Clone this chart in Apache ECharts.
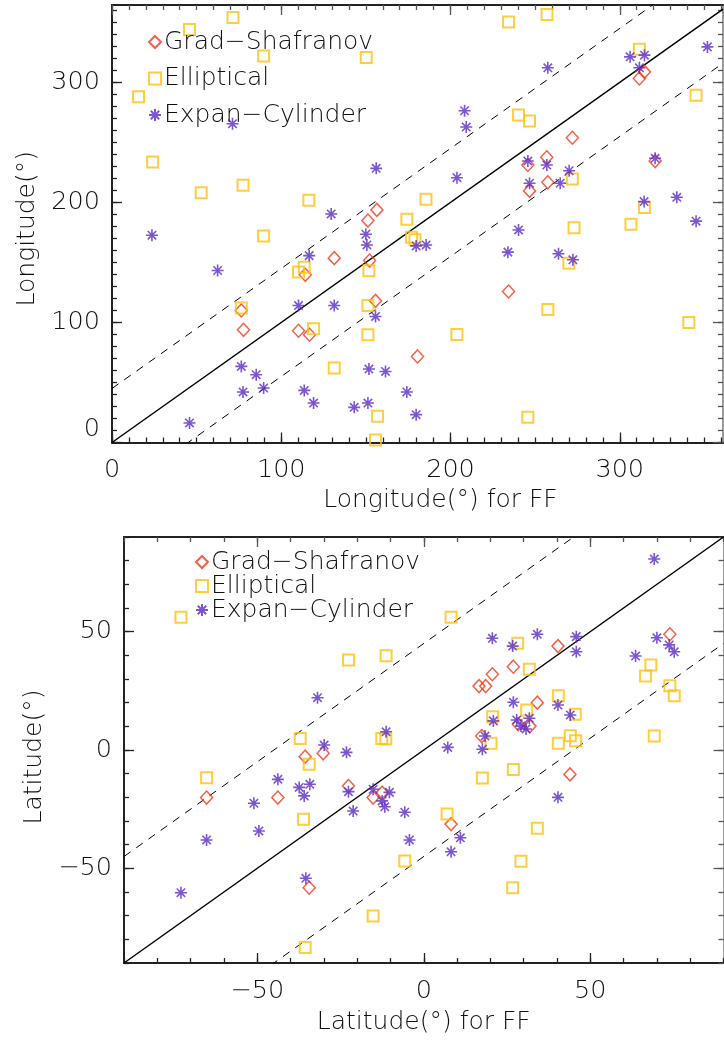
<!DOCTYPE html>
<html>
<head>
<meta charset="utf-8">
<style>
  html, body { margin: 0; padding: 0; background: #fff; }
  #chart { width: 724px; height: 1041px; }
</style>
<script src="https://cdn.jsdelivr.net/npm/echarts@6/dist/echarts.min.js"></script>
</head>
<body>
<div id="chart"></div>
<script>
// ---- Longitude comparison: [FF value, model value] ----
const gsLon = [
  [156.5,193.8],[151.2,184.9],[314.6,308.8],[311.6,303.3],[272,253.9],[256.9,237.6],
  [245.7,231.2],[257.5,216.8],[246.7,209.6],[320.9,234.5],[131.3,153.6],[152.2,151.6],
  [114.2,139.7],[155.7,118],[76.4,110],[77.7,93.9],[110.2,93.1],[116.7,89.8],
  [180.5,71.7],[234.3,125.8]
];
const ellLon = [
  [71.5,354],[45.8,344],[89.6,322],[150.2,320.8],[15.7,288],[24,233.7],[52.7,208],
  [77.4,214.3],[116.3,201.8],[174.2,186],[89.6,172],[177,171],[179,169],[234.3,350.4],
  [257,356.6],[311.6,327.7],[240.2,272.8],[246.7,267.8],[345.1,289.4],[185.5,202.7],
  [272,219.5],[314.6,195.7],[306.6,181.9],[273,179],[269.9,149.4],[257.5,110.8],
  [203.8,90],[340.8,100],[245.7,21],[110.2,142],[113.6,146],[151.8,143],[76.4,112],
  [151.2,114.1],[119.1,94.8],[151.2,89.8],[131.3,62],[156.9,21.8],[155.7,2]
];
const cylLon = [
  [71.2,265.6],[156.1,228.4],[129.5,190.4],[150,173.5],[23.6,172.7],
  [351.8,329.6],[306.1,321.3],[314.6,322.7],[311.6,312.2],[257.5,312.2],[208.3,276.4],
  [209.3,262.8],[203.8,220.6],[245.7,234.5],[256.9,231.2],[270.1,226.4],[246.7,216],
  [264.8,216],[320.9,236.8],[314.4,200.7],[333.7,204.3],[345.1,184.4],[240.2,177.1],
  [150.6,164.6],[116.5,155.7],[62.4,143.3],[110.2,114.1],[131.3,114.1],[155.7,105],
  [179.7,163.8],[185.6,164.6],[76.4,63.4],[85.2,56.5],[89.6,45.4],[77.4,42.1],
  [113.6,43.4],[119.1,32.9],[143.1,29.3],[151.2,32.9],[151.8,61.2],[161.6,59.2],
  [174.2,42.1],[179.7,23.2],[45.8,16.3],
  [233.9,158.6],[263.8,157.2],[272.3,152.2]
];

// ---- Latitude comparison: [FF value, model value] ----
const gsLat = [
  [-35.6,-2.8],[-30.2,-1.4],[73.9,48.9],[40.3,43.9],[26.9,35.2],[20.6,32],[16.6,27],
  [18.6,27],[34.1,20],[28.4,10.9],[31.9,10.1],[17.4,5.9],[43.9,-10.3],[-65.2,-20.1],
  [-43.8,-20.1],[-22.6,-15.2],[-15.2,-20.1],[-12.5,-18],[-34.4,-58.2],[8.2,-31.3]
];
const ellLat = [
  [-72.9,56.1],[-22.6,38],[-11.3,39.8],[-37.1,4.9],[-34.4,-6],[-65.2,-11.7],[-12.6,4.9],
  [-11.4,4.6],[8.2,56.1],[28.2,45.1],[31.7,34.1],[68.2,35.9],[66.6,31.3],[73.9,27.2],
  [75.2,22.9],[40.4,22.9],[30.9,16.9],[20.7,14.1],[45.5,15.1],[20.2,2.8],[44,6],
  [45.6,3.9],[40.4,2.8],[69.2,5.9],[26.9,-8.2],[17.6,-11.8],[-36.1,-29.3],[-5.7,-46.9],
  [-15.2,-70.1],[-35.6,-83.4],[7,-27],[34.1,-33.1],[29.2,-47],[26.7,-58.2]
];
const cylLat = [
  [69.2,80.7],[20.6,47.2],[34.1,48.9],[45.8,47.9],[45.8,41.5],[26.7,43.9],[70,47.4],
  [73.7,44.4],[75.2,41.5],[63.6,39.7],[26.9,20.2],[40.3,19],[20.9,12.3],[27.9,12.7],
  [31.7,13.4],[29.2,10.1],[30.7,8.9],[44,14.8],[18.4,5.9],[7.2,1.1],[17.6,0.3],
  [-31.9,22.1],[-29.9,2.1],[-23.2,-1],[-11.3,7.7],[-43.8,-12.4],[-37.4,-15.8],
  [-34.2,-14.5],[-35.9,-19.4],[-51,-22.5],[-49.5,-34.2],[-65.2,-38],[-72.9,-60.3],
  [-35.4,-54.2],[-22.6,-17.6],[-21.2,-25.8],[-15.2,-16.6],[-12.5,-21.5],[-11.7,-24],
  [-10.3,-17.9],[-5.7,-26.3],[-4.3,-38],[11,-37.1],[8.2,-43],[40.3,-20]
];

// reference lines y = x + offset
const refOffsets = [0, 45, -45];

const lonXLabels = [0, 100, 200, 300];
const lonYLabels = [0, 100, 200, 300];
const latLabels = [-50, 0, 50];

const seriesNames = ['Grad\u2212Shafranov', 'Elliptical', 'Expan\u2212Cylinder'];

const FONT = '"DejaVu Sans"';
const WEIGHT = 200;
const INK = '#111';
const RED = '#ee3a1c', GOLD = '#ffc10f', PURPLE = '#5b2cc6';
const STAR = 'path://M0,10L20,10M10,0L10,20M3,3L17,17M17,3L3,17';

function tickList(min, max, step) {
  const out = [];
  for (let v = Math.ceil(min / step) * step; v <= max + 1e-9; v += step) out.push(Math.round(v * 1000) / 1000);
  return out;
}
const fmt = v => String(v).replace('-', '\u2212');

// four axes per direction: main side (minor ticks + labels), main side major ticks,
// opposite side minor ticks, opposite side major ticks
function axisSet(dim, g, min, max, minorStep, majorStep, labelVals, name, nameGap, extra) {
  const sides = dim === 'x' ? ['bottom', 'top'] : ['left', 'right'];
  const minor = tickList(min, max, minorStep);
  const major = tickList(min, max, majorStep);
  const base = (pos, lineShow, lineColor, vals, len, tickColor) => ({
    type: 'value', gridIndex: g, min: min, max: max, position: pos,
    splitLine: { show: false },
    axisLine: { show: lineShow, onZero: false, lineStyle: { color: lineColor, width: 2 } },
    axisTick: { show: true, inside: true, length: len, customValues: vals,
      lineStyle: { color: tickColor, width: 1.3 } },
    axisLabel: { show: false },
    axisPointer: { show: false }
  });
  const a0 = base(sides[0], true, '#222', minor, 5, '#222');
  a0.axisLabel = Object.assign({
    show: true, customValues: labelVals, formatter: fmt,
    fontFamily: FONT, fontWeight: WEIGHT, fontSize: 25.5, color: INK, margin: dim === 'x' ? 15 : 12
  }, extra.label || {});
  a0.name = name;
  a0.nameLocation = 'middle';
  a0.nameGap = nameGap;
  a0.nameTextStyle = Object.assign({ fontFamily: FONT, fontWeight: WEIGHT, fontSize: 25, color: INK }, extra.nameStyle || {});
  const a1 = base(sides[0], false, '#222', major, 10, '#222');
  const a2 = base(sides[1], true, dim === 'x' ? '#222' : '#9a9a9a', minor, 5, '#555');
  const a3 = base(sides[1], false, '#222', major, 10, '#555');
  return [a0, a1, a2, a3];
}

const LON = { xmin: 0, xmax: 361, ymin: 0, ymax: 364.5 };
const LAT = { xmin: -90, xmax: 90, ymin: -90, ymax: 90 };

const xAxes = [].concat(
  axisSet('x', 0, LON.xmin, LON.xmax, 10, 100, lonXLabels, 'Longitude(\u00b0) for FF', 45,
    { nameStyle: { padding: [0, 0, 0, 46] } }),
  axisSet('x', 1, LAT.xmin, LAT.xmax, 10, 50, latLabels, 'Latitude(\u00b0) for FF', 47, {})
);
const yAxes = [].concat(
  axisSet('y', 0, LON.ymin, LON.ymax, 10, 100, lonYLabels, 'Longitude(\u00b0)', 71,
    { label: { verticalAlignMinLabel: 'bottom' }, nameStyle: { padding: [0, 10, 0, 0] } }),
  axisSet('y', 1, LAT.ymin, LAT.ymax, 10, 50, latLabels, 'Latitude(\u00b0)', 74,
    { nameStyle: { padding: [0, 14, 0, 0] } })
);

function refLines(axisIdx, R) {
  return refOffsets.map(off => ({
    type: 'line', xAxisIndex: axisIdx, yAxisIndex: axisIdx,
    data: [[R.xmin, R.xmin + off], [R.xmax, R.xmax + off]],
    showSymbol: false, silent: true, clip: true, z: 1,
    lineStyle: off === 0 ? { color: '#000', width: 1.5 } : { color: '#000', width: 1, type: [8, 7] }
  }));
}

function scatters(axisIdx, gs, ell, cyl) {
  const common = { type: 'scatter', xAxisIndex: axisIdx, yAxisIndex: axisIdx, clip: false, z: 3, silent: true };
  return [
    Object.assign({}, common, { name: seriesNames[0], data: gs, symbol: 'diamond', symbolSize: [12, 13],
      itemStyle: { color: 'rgba(0,0,0,0)', borderColor: RED, borderWidth: 1.5 } }),
    Object.assign({}, common, { name: seriesNames[1], data: ell, symbol: 'rect', symbolSize: 11,
      itemStyle: { color: 'rgba(0,0,0,0)', borderColor: GOLD, borderWidth: 2 } }),
    Object.assign({}, common, { name: seriesNames[2], data: cyl, symbol: STAR, symbolSize: 12,
      itemStyle: { color: 'rgba(0,0,0,0)', borderColor: PURPLE, borderWidth: 1.6 } })
  ];
}

function legendAt(left, top, gap) {
  return {
    orient: 'vertical', left: left, top: top, padding: 0, itemGap: gap,
    itemWidth: 12, itemHeight: 12, selectedMode: false,
    data: seriesNames,
    textStyle: { fontFamily: FONT, fontWeight: WEIGHT, fontSize: 25, color: INK, padding: [0, 0, 0, -2] }
  };
}

const chart = echarts.init(document.getElementById('chart'), null, { renderer: 'canvas' });
chart.setOption({
  animation: false,
  backgroundColor: '#fff',
  textStyle: { fontFamily: FONT },
  grid: [
    { left: 112, top: 5, width: 611, height: 437.5 },
    { left: 124, top: 537, width: 599.5, height: 426 }
  ],
  legend: [legendAt(148, 29.5, 11.5), legendAt(195, 549.5, -1)],
  xAxis: xAxes,
  yAxis: yAxes,
  series: [].concat(
    refLines(0, LON), scatters(0, gsLon, ellLon, cylLon),
    refLines(4, LAT), scatters(4, gsLat, ellLat, cylLat)
  )
});
</script>
</body>
</html>
